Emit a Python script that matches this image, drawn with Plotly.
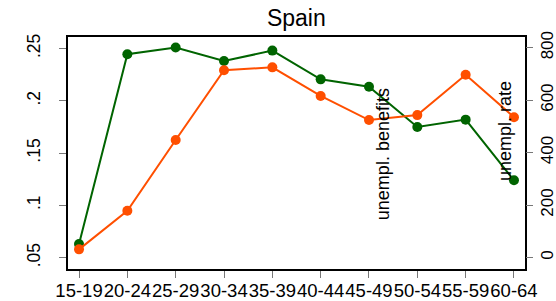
import plotly.graph_objects as go

categories = ["15-19", "20-24", "25-29", "30-34", "35-39", "40-44", "45-49", "50-54", "55-59", "60-64"]
green_left = [0.063, 0.2445, 0.251, 0.238, 0.248, 0.2205, 0.2135, 0.175, 0.182, 0.124]
orange_right = [31, 178, 448, 714, 725, 616, 524, 543, 697, 535]
left_ticks = [0.05, 0.1, 0.15, 0.2, 0.25]
left_ticktext = [".05", ".1", ".15", ".2", ".25"]
right_ticks = [0, 200, 400, 600, 800]
right_ticktext = ["0", "200", "400", "600", "800"]

GREEN = "#006400"
ORANGE = "#FF4F00"
FONT = "Liberation Sans, Arial, sans-serif"
xs = list(range(len(categories)))

fig = go.Figure()
fig.add_trace(go.Scatter(x=xs, y=green_left, mode="lines+markers",
                         line=dict(color=GREEN, width=2), marker=dict(color=GREEN, size=10),
                         yaxis="y", showlegend=False, hoverinfo="skip"))
fig.add_trace(go.Scatter(x=xs, y=orange_right, mode="lines+markers",
                         line=dict(color=ORANGE, width=2), marker=dict(color=ORANGE, size=10),
                         yaxis="y2", showlegend=False, hoverinfo="skip"))

fig.add_annotation(x=6.29, y=0.149, xref="x", yref="y", text="unempl. benefits",
                   textangle=-90, showarrow=False, font=dict(family=FONT, size=18, color="black"))
fig.add_annotation(x=8.81, y=0.171, xref="x", yref="y", text="unempl. rate",
                   textangle=-90, showarrow=False, font=dict(family=FONT, size=18, color="black"))

fig.update_layout(
    width=556, height=301,
    margin=dict(l=68, r=31, t=37, b=32, autoexpand=False),
    paper_bgcolor="white", plot_bgcolor="white",
    font=dict(family=FONT, size=18, color="black"),
    title=dict(text="Spain", x=0.533, xanchor="center", y=0.94, yanchor="middle",
               font=dict(family=FONT, size=23, color="black")),
    xaxis=dict(range=[-0.228, 9.228], tickvals=xs, ticktext=categories,
               showgrid=False, zeroline=False, showline=True, linecolor="black", linewidth=2,
               mirror=True, ticks="outside", ticklen=7, tickcolor="#777777", tickwidth=1,
               tickangle=0, automargin=False, tickfont=dict(size=18.5),
               ticklabelstandoff=-3),
    yaxis=dict(range=[0.0392, 0.261], tickvals=left_ticks, ticktext=left_ticktext,
               showgrid=False, zeroline=False, showline=True, linecolor="black", linewidth=2,
               mirror=True, ticks="outside", ticklen=7, tickcolor="#777777", tickwidth=1,
               tickangle=-90, automargin=False, tickfont=dict(size=17.5),
               ticklabelstandoff=12),
    yaxis2=dict(range=[-43.9, 840.8], tickvals=right_ticks, ticktext=right_ticktext,
                overlaying="y", side="right", showgrid=False, zeroline=False, showline=False,
                ticks="outside", ticklen=7, tickcolor="#777777", tickwidth=1,
                tickangle=-90, automargin=False, tickfont=dict(size=17)),
)

fig.write_html("out.html", config={"displayModeBar": False},
               post_script="document.body.style.margin='0';document.body.style.overflow='hidden';")
